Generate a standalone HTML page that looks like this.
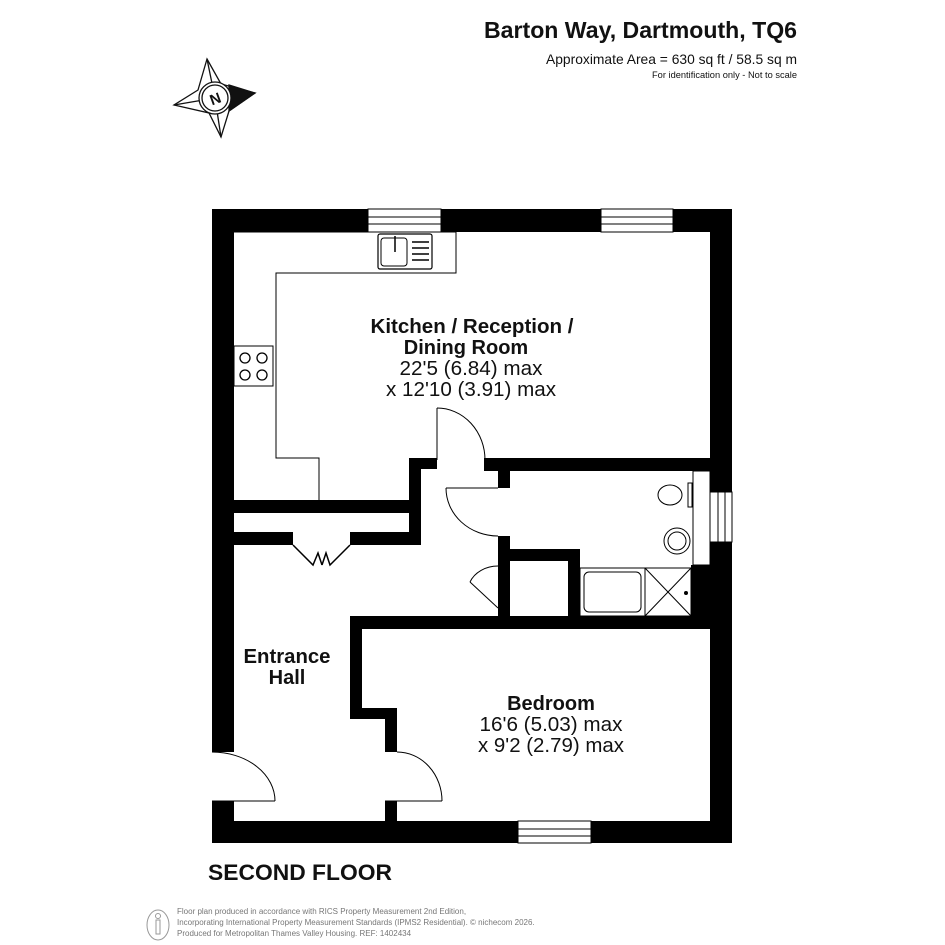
<!DOCTYPE html>
<html><head><meta charset="utf-8"><style>
html,body{margin:0;padding:0;background:#fff;}
svg{display:block;}
text{font-family:"Liberation Sans",Arial,sans-serif;}
</style></head><body>
<svg width="945" height="945" viewBox="0 0 945 945" xmlns="http://www.w3.org/2000/svg">
<rect width="945" height="945" fill="#fff"/>
<!-- header -->
<text x="797" y="38" font-size="23" font-weight="bold" text-anchor="end" fill="#111" textLength="313" lengthAdjust="spacingAndGlyphs">Barton Way, Dartmouth, TQ6</text>
<text x="797" y="64" font-size="14" text-anchor="end" fill="#111" textLength="251" lengthAdjust="spacingAndGlyphs">Approximate Area = 630 sq ft / 58.5 sq m</text>
<text x="797" y="78" font-size="9" text-anchor="end" fill="#111" textLength="145" lengthAdjust="spacingAndGlyphs">For identification only - Not to scale</text>
<!-- compass -->
<g stroke="#111" stroke-width="1.3" fill="none">
<polygon points="207,59 221,84 255,93 229,111 221,137 209,113 174,105 198,90" fill="#fff"/>
<polygon points="229,85 255,93 229,111" fill="#111"/>
<line x1="207" y1="59" x2="215" y2="98"/><line x1="174" y1="105" x2="215" y2="98"/><line x1="221" y1="137" x2="215" y2="98"/>
<circle cx="215" cy="98" r="16" fill="#fff"/><circle cx="215" cy="98" r="13"/>
</g>
<text x="215" y="104" font-size="15" font-weight="bold" text-anchor="middle" fill="#111" transform="rotate(-20 215 98)">N</text>
<!-- outer walls -->
<path fill="#000" fill-rule="evenodd" d="M212,209 H732 V843 H212 Z M234,232 V821 H710 V232 Z"/>
<rect x="212" y="752" width="22" height="49" fill="#fff"/>
<!-- windows -->
<g fill="#fff" stroke="#000" stroke-width="1">
<rect x="368" y="209" width="73" height="23"/><rect x="601" y="209" width="72" height="23"/>
<rect x="518" y="821" width="73" height="22"/><rect x="710" y="492" width="22" height="50"/>
</g>
<g stroke="#000" stroke-width="1">
<line x1="368" y1="217" x2="441" y2="217"/><line x1="368" y1="224" x2="441" y2="224"/>
<line x1="601" y1="217" x2="673" y2="217"/><line x1="601" y1="224" x2="673" y2="224"/>
<line x1="518" y1="829" x2="591" y2="829"/><line x1="518" y1="836" x2="591" y2="836"/>
<line x1="718" y1="492" x2="718" y2="542"/><line x1="725" y1="492" x2="725" y2="542"/>
</g>
<!-- kitchen counter -->
<polyline points="234,232 456,232 456,273 276,273 276,458 319,458 319,500" fill="none" stroke="#000" stroke-width="1"/>
<rect x="378" y="234" width="54" height="35" rx="2" fill="none" stroke="#000" stroke-width="1.2"/>
<rect x="381" y="238" width="26" height="28" rx="3" fill="none" stroke="#000" stroke-width="1"/>
<g stroke="#000" stroke-width="1.5"><line x1="412" y1="242" x2="429" y2="242"/><line x1="412" y1="248" x2="429" y2="248"/><line x1="412" y1="254" x2="429" y2="254"/><line x1="412" y1="260" x2="429" y2="260"/><line x1="395" y1="236" x2="395" y2="252"/></g>
<rect x="234" y="346" width="39" height="40" fill="none" stroke="#000" stroke-width="1"/>
<g fill="none" stroke="#000" stroke-width="1.3"><circle cx="245" cy="358" r="5"/><circle cx="262" cy="358" r="5"/><circle cx="245" cy="375" r="5"/><circle cx="262" cy="375" r="5"/></g>
<!-- internal walls -->
<g fill="#000">
<rect x="234" y="500" width="175" height="13"/>
<rect x="234" y="532" width="59" height="13"/>
<rect x="350" y="532" width="71" height="13"/>
<rect x="409" y="458" width="12" height="87"/>
<rect x="409" y="458" width="28" height="11"/>
<rect x="484" y="458" width="226" height="13"/>
<rect x="498" y="471" width="12" height="17"/>
<rect x="498" y="536" width="12" height="84"/>
<rect x="498" y="549" width="82" height="12"/>
<rect x="568" y="549" width="12" height="71"/>
<rect x="691" y="565" width="19" height="55"/>
<path d="M350,616 H710 V629 H362 V708 H397 V752 H385 V719 H350 Z"/>
<rect x="385" y="801" width="12" height="20"/>
</g>
<line x1="437" y1="408" x2="437" y2="460" stroke="#000" stroke-width="1"/>
<rect x="693" y="471" width="17" height="94" fill="#fff" stroke="#000" stroke-width="1"/>
<!-- doors -->
<g fill="none" stroke="#000" stroke-width="1">
<path d="M437,408 A48,52 0 0 1 485,460"/>
<line x1="446" y1="488" x2="498" y2="488"/><path d="M446,488 A52,48 0 0 0 498,536"/>
<line x1="470" y1="582" x2="498" y2="608"/><path d="M470,582 A30,25 0 0 1 498,566"/>
<line x1="212" y1="801" x2="275" y2="801"/><path d="M212,752 A63,49 0 0 1 275,801"/>
<line x1="385" y1="801" x2="442" y2="801"/><path d="M397,752 A45,49 0 0 1 442,801"/>
<polyline points="293,545 313,565 318,553 322,565" stroke-width="1.5"/>
<polyline points="350,545 330,565 326,553 322,565" stroke-width="1.5"/>
</g>
<!-- bathroom fittings -->
<g fill="none" stroke="#000" stroke-width="1">
<rect x="580" y="568" width="65" height="48"/><rect x="584" y="572" width="57" height="40" rx="5"/>
<rect x="645" y="568" width="46" height="48"/><line x1="645" y1="568" x2="691" y2="616"/><line x1="691" y1="568" x2="645" y2="616"/>
<ellipse cx="670" cy="495" rx="12" ry="10"/><rect x="688" y="483" width="4" height="24"/>
<circle cx="677" cy="541" r="13"/><circle cx="677" cy="541" r="9"/>
</g>
<circle cx="686" cy="593" r="2" fill="#000"/>
<!-- labels -->
<g text-anchor="middle" fill="#111" font-size="20">
<text x="472" y="333" font-weight="bold" textLength="203" lengthAdjust="spacingAndGlyphs">Kitchen / Reception /</text>
<text x="466" y="354" font-weight="bold">Dining Room</text>
<text x="471" y="375" textLength="143" lengthAdjust="spacingAndGlyphs">22'5 (6.84) max</text>
<text x="471" y="396" textLength="170" lengthAdjust="spacingAndGlyphs">x 12'10 (3.91) max</text>
<text x="287" y="663" font-weight="bold" textLength="87" lengthAdjust="spacingAndGlyphs">Entrance</text>
<text x="287" y="684" font-weight="bold">Hall</text>
<text x="551" y="710" font-weight="bold">Bedroom</text>
<text x="551" y="731" textLength="143" lengthAdjust="spacingAndGlyphs">16'6 (5.03) max</text>
<text x="551" y="752" textLength="146" lengthAdjust="spacingAndGlyphs">x 9'2 (2.79) max</text>
</g>
<text x="208" y="880" font-size="22" font-weight="bold" fill="#111" textLength="184" lengthAdjust="spacingAndGlyphs">SECOND FLOOR</text>
<!-- footer -->
<g fill="none" stroke="#999" stroke-width="1"><ellipse cx="158" cy="925" rx="11" ry="15"/><circle cx="158" cy="916" r="2.5"/><rect x="156" y="920" width="4" height="14"/></g>
<g font-size="8" fill="#777">
<text x="177" y="914">Floor plan produced in accordance with RICS Property Measurement 2nd Edition,</text>
<text x="177" y="925">Incorporating International Property Measurement Standards (IPMS2 Residential).   © nichecom 2026.</text>
<text x="177" y="936">Produced for Metropolitan Thames Valley Housing.   REF:  1402434</text>
</g>
</svg>
</body></html>
